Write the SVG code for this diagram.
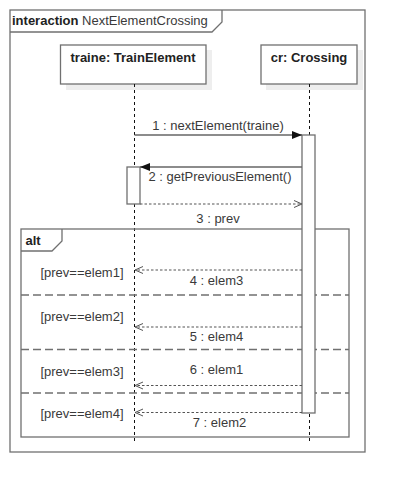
<svg xmlns="http://www.w3.org/2000/svg" width="405" height="493" viewBox="0 0 405 493">
<style>
text{font-family:"Liberation Sans",Arial,sans-serif;font-size:13px;fill:#3a3a3a}
.b{font-weight:bold;fill:#222}
.c{text-anchor:middle}
.frame{fill:none;stroke:#707070;stroke-width:1.3}
.box{fill:#fff;stroke:#707070;stroke-width:1.3}
.shadow{fill:#eeeeee}
.life{stroke:#111;stroke-width:1;stroke-dasharray:3,3;fill:none}
.msg{stroke:#666;stroke-width:1.3;fill:none}
.ret{stroke:#555;stroke-width:1.2;stroke-dasharray:2.5,2;fill:none}
.sep{stroke:#707070;stroke-width:1.3;stroke-dasharray:8,4;fill:none}
.act{fill:#fff;stroke:#707070;stroke-width:1.3}
</style>
<defs>
<marker id="filled" markerWidth="12" markerHeight="10" refX="10" refY="4" orient="auto" markerUnits="userSpaceOnUse">
<path d="M0,0 L10,4 L0,8 Z" fill="#111"/>
</marker>
<marker id="open" markerWidth="10" markerHeight="9" refX="8" refY="4" orient="auto" markerUnits="userSpaceOnUse">
<path d="M0,0.5 L8,4 L0,7.5" fill="none" stroke="#555" stroke-width="1"/>
</marker>
</defs>
<rect width="405" height="493" fill="#fff"/>

<g id="frame">
<rect class="frame" x="10" y="10" width="355" height="442"/>
<path class="frame" d="M10,32 H212 L222,22 V10"/>
<text x="12" y="25"><tspan class="b">interaction</tspan> NextElementCrossing</text>
</g>

<g id="lifeline-traine">
<rect class="shadow" x="66" y="50" width="146" height="40"/>
<rect class="box" x="60.5" y="45" width="145.5" height="39"/>
<text class="b c" x="133" y="62">traine: TrainElement</text>
<line class="life" x1="134.5" y1="84" x2="134.5" y2="442"/>
</g>

<g id="lifeline-cr">
<rect class="shadow" x="266" y="50" width="97" height="40"/>
<rect class="box" x="261" y="45" width="96" height="39"/>
<text class="b c" x="309" y="62">cr: Crossing</text>
<line class="life" x1="309.5" y1="84" x2="309.5" y2="442"/>
</g>

<g id="alt">
<rect class="frame" x="21" y="229" width="328" height="208"/>
<path class="frame" d="M21,251 H52 L62,241 V229"/>
<text class="b" x="25.5" y="244.5">alt</text>
<line class="sep" x1="21" y1="295" x2="349" y2="295"/>
<line class="sep" x1="21" y1="349.5" x2="349" y2="349.5"/>
<line class="sep" x1="21" y1="393" x2="349" y2="393"/>
<text class="c" x="82" y="276.5">[prev==elem1]</text>
<text class="c" x="82" y="320.5">[prev==elem2]</text>
<text class="c" x="82" y="375.5">[prev==elem3]</text>
<text class="c" x="82" y="417.5">[prev==elem4]</text>
</g>

<g id="activation-cr">
<rect class="act" x="302" y="135" width="13" height="278"/>
</g>
<g id="activation-traine">
<rect class="act" x="127" y="167" width="13" height="37"/>
</g>

<g id="connectors">
<line class="msg" x1="134.5" y1="135" x2="302" y2="135" marker-end="url(#filled)"/>
<text class="c" x="218" y="129.5">1 : nextElement(traine)</text>
<line class="msg" x1="302" y1="167" x2="140" y2="167" marker-end="url(#filled)"/>
<text class="c" x="220" y="181">2 : getPreviousElement()</text>
<line class="ret" x1="140" y1="204" x2="302" y2="204" marker-end="url(#open)"/>
<text class="c" x="218" y="222.5">3 : prev</text>
<line class="ret" x1="302" y1="270" x2="135" y2="270" marker-end="url(#open)"/>
<text class="c" x="216.5" y="284.5">4 : elem3</text>
<line class="ret" x1="302" y1="327" x2="135" y2="327" marker-end="url(#open)"/>
<text class="c" x="216.5" y="341">5 : elem4</text>
<line class="ret" x1="302" y1="385.5" x2="135" y2="385.5" marker-end="url(#open)"/>
<text class="c" x="216.5" y="373.5">6 : elem1</text>
<line class="ret" x1="302" y1="412.5" x2="135" y2="412.5" marker-end="url(#open)"/>
<text class="c" x="219.5" y="426.5">7 : elem2</text>
</g>
</svg>
